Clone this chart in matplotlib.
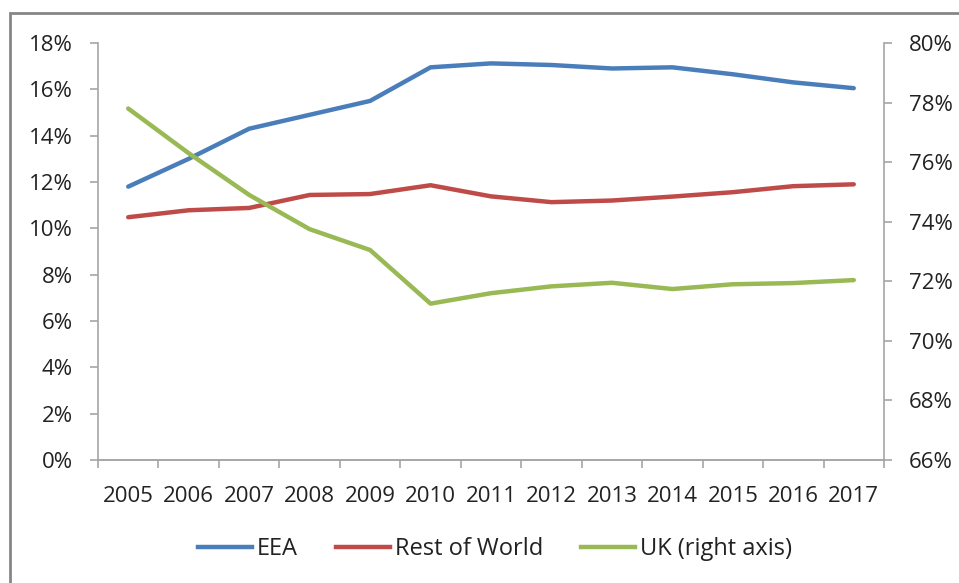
import matplotlib
matplotlib.use("Agg")
import matplotlib.pyplot as plt
from matplotlib.patches import Rectangle
from matplotlib.ticker import FuncFormatter, MultipleLocator
from matplotlib.lines import Line2D

years = ["2005", "2006", "2007", "2008", "2009", "2010", "2011", "2012",
         "2013", "2014", "2015", "2016", "2017"]
eea = [11.8, 13.0, 14.3, 14.9, 15.5, 16.95, 17.12, 17.05, 16.9, 16.95, 16.65, 16.3, 16.05]
rest_of_world = [10.48, 10.78, 10.88, 11.44, 11.48, 11.86, 11.38, 11.13, 11.2, 11.37, 11.56, 11.82, 11.9]
uk = [77.8, 76.3, 74.9, 73.75, 73.05, 71.25, 71.6, 71.83, 71.95, 71.74, 71.9, 71.94, 72.04]

plt.rcParams['font.family'] = ['Open Sans', 'DejaVu Sans']

W, H = 959, 583
fig = plt.figure(figsize=(W / 100, H / 100), dpi=100)
fig.patch.set_facecolor("white")

# outer chart border
fig.patches.append(Rectangle((10 / W, -0.05), 1.2, (H - 13) / H + 0.05,
                             transform=fig.transFigure, fill=False,
                             edgecolor="#868686", linewidth=2))

left, right, top, bottom = 98, 884, 43, 460
ax = fig.add_axes([left / W, 1 - bottom / H, (right - left) / W, (bottom - top) / H])
ax2 = ax.twinx()

x = list(range(len(years)))
blue = "#4A7EBB"
red = "#BE4B48"
green = "#98B954"
lw = 3.2
fs = 16
tc = "#222222"
gc = "#A6A6A6"

ax.plot(x, eea, color=blue, lw=lw, solid_capstyle="round", zorder=3)
ax.plot(x, rest_of_world, color=red, lw=lw, solid_capstyle="round", zorder=3)
ax2.plot(x, uk, color=green, lw=lw, solid_capstyle="round", zorder=3)

ax.set_xlim(-0.5, len(years) - 0.5)
ax.set_ylim(0, 18)
ax2.set_ylim(66, 80)
ax.yaxis.set_major_locator(MultipleLocator(2))
ax2.yaxis.set_major_locator(MultipleLocator(2))
ax.yaxis.set_major_formatter(FuncFormatter(lambda v, p: f"{v:.0f}%"))
ax2.yaxis.set_major_formatter(FuncFormatter(lambda v, p: f"{v:.0f}%"))

ax.set_xticks(x)
ax.set_xticklabels(years)
ax.set_xticks([i - 0.5 for i in range(len(years) + 1)], minor=True)
ax.tick_params(axis="x", which="major", length=0, pad=19, labelsize=fs, labelcolor=tc)
ax.tick_params(axis="x", which="minor", length=6, color=gc, width=1.2)
ax.tick_params(axis="y", length=6, color=gc, width=1.2, pad=12, labelsize=fs, labelcolor=tc)
ax2.tick_params(axis="y", length=6, color=gc, width=1.2, pad=12, labelsize=fs, labelcolor=tc)

for a in (ax, ax2):
    a.spines["top"].set_visible(False)
    for s in ("left", "right", "bottom"):
        a.spines[s].set_color(gc)
        a.spines[s].set_linewidth(1.2)
ax.spines["right"].set_visible(False)
ax2.spines["left"].set_visible(False)

handles = [Line2D([], [], color=blue, lw=lw),
           Line2D([], [], color=red, lw=lw),
           Line2D([], [], color=green, lw=lw)]
fig.legend(handles, ["EEA", "Rest of World", "UK (right axis)"],
           loc="center", bbox_to_anchor=(495 / W, 1 - 549 / H), ncol=3,
           frameon=False, fontsize=17, handlelength=2.3, handletextpad=0.2,
           columnspacing=1.6, labelcolor=tc)

fig.savefig("out.png", dpi=100, facecolor="white")
